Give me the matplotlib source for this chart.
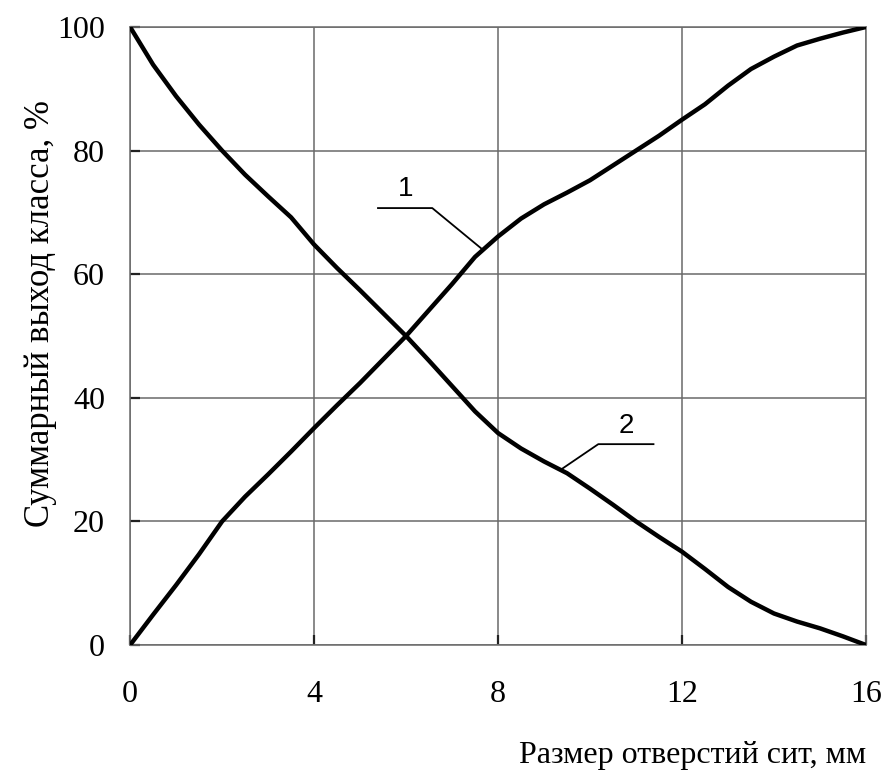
import matplotlib.pyplot as plt

# sieve size, mm
x = [0, 0.5, 1, 1.5, 2, 2.5, 3, 3.5, 4, 4.5, 5, 5.5, 6, 6.5, 7, 7.5, 8,
     8.5, 9, 9.5, 10, 10.5, 11, 11.5, 12, 12.5, 13, 13.5, 14, 14.5, 15, 15.5, 16]

# curve 1 - rising
curve_1 = [0, 4.9, 9.7, 14.7, 20, 24, 27.6, 31.3, 35.1, 38.8, 42.4, 46.2, 50,
           54.2, 58.4, 62.8, 66.1, 69, 71.3, 73.2, 75.2, 77.6, 80, 82.4, 85,
           87.5, 90.5, 93.2, 95.2, 97, 98.1, 99.1, 100]

# curve 2 - falling
curve_2 = [100, 93.9, 88.8, 84.2, 80, 76.1, 72.6, 69.2, 64.8, 61, 57.4, 53.7, 50,
           46, 41.9, 37.8, 34.3, 31.8, 29.7, 27.8, 25.3, 22.7, 20, 17.5, 15.1,
           12.3, 9.4, 7, 5.1, 3.8, 2.7, 1.4, 0]

x_ticks = [0, 4, 8, 12, 16]
y_ticks = [0, 20, 40, 60, 80, 100]

fig = plt.figure(figsize=(8.85, 7.71), dpi=100)
ax = fig.add_axes([0.147, 0.1634, 0.8315, 0.8016])

ax.plot(x, curve_1, color="black", lw=3.2, solid_capstyle="butt", zorder=3)
ax.plot(x, curve_2, color="black", lw=3.2, solid_capstyle="butt", zorder=3)

ax.set_xlim(0, 16)
ax.set_ylim(0, 100)
ax.set_xticks(x_ticks)
ax.set_yticks(y_ticks)
ax.grid(True, color="#6a6a6a", lw=1.1)
for s in ax.spines.values():
    s.set_color("#6a6a6a")
    s.set_linewidth(1.1)

ax.tick_params(axis="both", direction="in", length=7, width=1.6, color="#222222",
               labelsize=23)
ax.tick_params(axis="x", pad=25)
ax.tick_params(axis="y", pad=18)
for lab in ax.get_xticklabels() + ax.get_yticklabels():
    lab.set_fontfamily("Liberation Serif")

ax.set_xlabel("Размер отверстий сит, мм", fontsize=23, family="Liberation Serif",
              loc="right", labelpad=23)
ax.set_ylabel("Суммарный выход класса, %", fontsize=25, family="Liberation Serif")
ax.yaxis.set_label_coords(-0.099, 0.537)

# leader lines with curve numbers
ax.plot([5.39, 6.57, 7.63], [70.7, 70.7, 64.2], color="black", lw=1.3, zorder=2)
ax.text(5.98, 73.8, "1", fontsize=20, family="Liberation Sans",
        ha="center", va="center")
ax.plot([11.38, 10.18, 9.37], [32.5, 32.5, 28.4], color="black", lw=1.3, zorder=2)
ax.text(10.8, 35.5, "2", fontsize=20, family="Liberation Sans",
        ha="center", va="center")

fig.savefig("out.png", dpi=100)
